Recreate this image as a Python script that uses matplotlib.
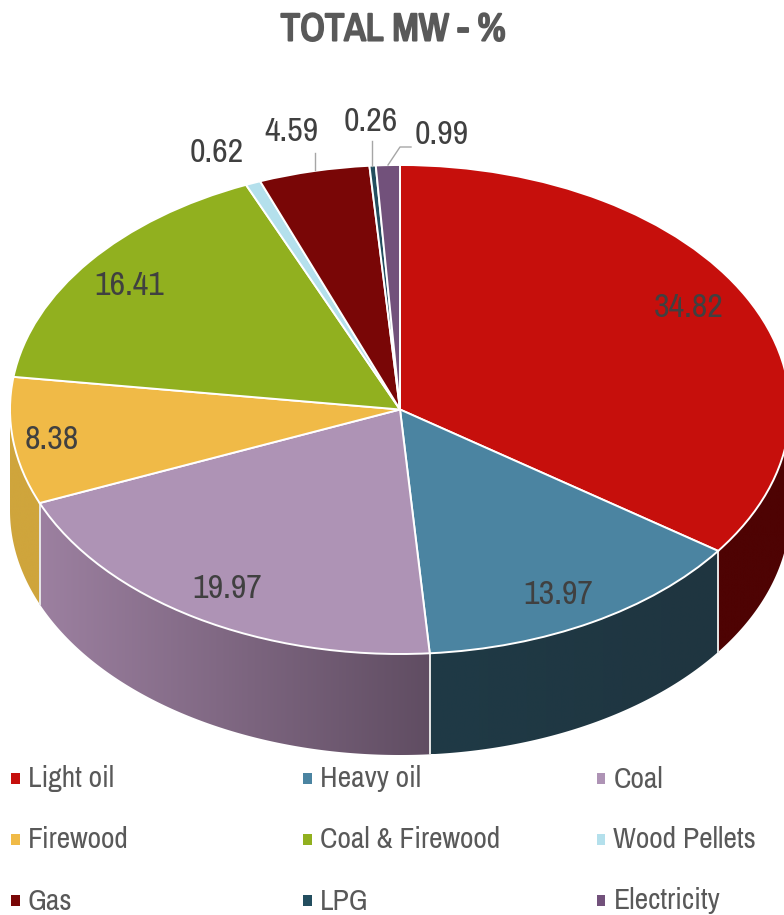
import numpy as np
import matplotlib
matplotlib.use('Agg')
import matplotlib.pyplot as plt
from matplotlib import font_manager as fm
from matplotlib import patheffects as pe
from matplotlib.colors import LinearSegmentedColormap
from matplotlib.patches import Polygon, Rectangle

installed = {f.name for f in fm.fontManager.ttflist}
narrow = [n for n in ['Liberation Sans Narrow', 'Arimo Narrow', 'Archivo Narrow', 'PT Sans Narrow', 'Roboto Condensed']
          if n in installed]
plt.rcParams['font.family'] = narrow[:1] + ['Liberation Sans']

categories = ['Light oil', 'Heavy oil', 'Coal', 'Firewood', 'Coal & Firewood',
              'Wood Pellets', 'Gas', 'LPG', 'Electricity']
values = [34.82, 13.97, 19.97, 8.38, 16.41, 0.62, 4.59, 0.26, 0.99]
colors = ['#c60f0c', '#4b84a1', '#ae93b5', '#f0ba47', '#91b01f',
          '#b4e0ec', '#790606', '#234e5f', '#72517b']
# side colours at the left and right end of each visible wall
wall_colors = {'Light oil': ('#4e0303', '#4e0303'),
               'Heavy oil': ('#1f3a46', '#1f3540'),
               'Coal': ('#9c80a0', '#604d62'),
               'Firewood': ('#cfa53c', '#cfa53c')}

label_pos = [(689, 308), (558, 595), (227, 589), (52, 440), (129, 286),
             (217, 153), (291, 132), (371, 122), (442, 135)]
legend_cols = [11.5, 303.5, 597]
legend_rows = [779, 840, 901]

W, H = 784, 915
cx, cy, rx, ry, depth = 400, 409.5, 390, 244.5, 101

fig = plt.figure(figsize=(W / 100, H / 100), dpi=100)
ax = fig.add_axes([0, 0, 1, 1])
ax.pie(values, colors=colors, startangle=90, counterclock=False, radius=1,
       wedgeprops={'edgecolor': 'white', 'linewidth': 1.4, 'zorder': 3})
d = depth / ry

edges = np.cumsum([0] + values) / sum(values) * 360
for name, a0, a1 in zip(categories, edges[:-1], edges[1:]):
    lo, hi = max(a0, 90), min(a1, 270)
    if lo >= hi:
        continue
    t = np.radians(np.linspace(lo, hi, 200))
    xs, ys = np.sin(t), np.cos(t)
    wall = Polygon(np.c_[np.r_[xs, xs[::-1]], np.r_[ys, ys[::-1] - d]],
                   closed=True, fc='none', ec='none', transform=ax.transData)
    ax.add_patch(wall)
    cmap = LinearSegmentedColormap.from_list(name, wall_colors[name])
    im = ax.imshow(np.linspace(0, 1, 256)[None, :], cmap=cmap, aspect='auto', zorder=1,
                   extent=[xs.min(), xs.max(), ys.min() - d, ys.max()])
    im.set_clip_path(wall)

ax.set_aspect('auto')
ax.set_xlim(-cx / rx, (W - cx) / rx)
ax.set_ylim((cy - H) / ry, cy / ry)

# light seams where the walls meet
for a in edges[1:4]:
    t = np.radians(a)
    ax.plot([np.sin(t)] * 2, [np.cos(t), np.cos(t) - d], color='#e6e6e6', lw=1.4, zorder=2)

# overlay in pixel coordinates for text
ov = fig.add_axes([0, 0, 1, 1])
ov.set_xlim(0, W)
ov.set_ylim(H, 0)
ov.axis('off')
ov.patch.set_alpha(0)

ov.text(393, 30, 'TOTAL MW - %', fontsize=28, color='#595959', ha='center', va='center',
        path_effects=[pe.withStroke(linewidth=1.5, foreground='#595959')])

for v, (x, y) in zip(values, label_pos):
    ov.text(x, y, f'{v:.2f}', fontsize=24.5, color='#404040', ha='center', va='center')

ov.plot([315, 315], [153, 170], color='#a6a6a6', lw=1)
ov.plot([372, 372], [141, 166], color='#a6a6a6', lw=1)
ov.plot([388, 400, 411], [165, 147, 147], color='#a6a6a6', lw=1)

for i, (name, col) in enumerate(zip(categories, colors)):
    x = legend_cols[i % 3]
    y = legend_rows[i // 3]
    ov.add_patch(Rectangle((x, y - 6.5), 8.5, 11, color=col, lw=0))
    ov.text(x + 16.5, y, name, fontsize=21.3, color='#595959', ha='left', va='center')

fig.savefig('out.png', dpi=100)
